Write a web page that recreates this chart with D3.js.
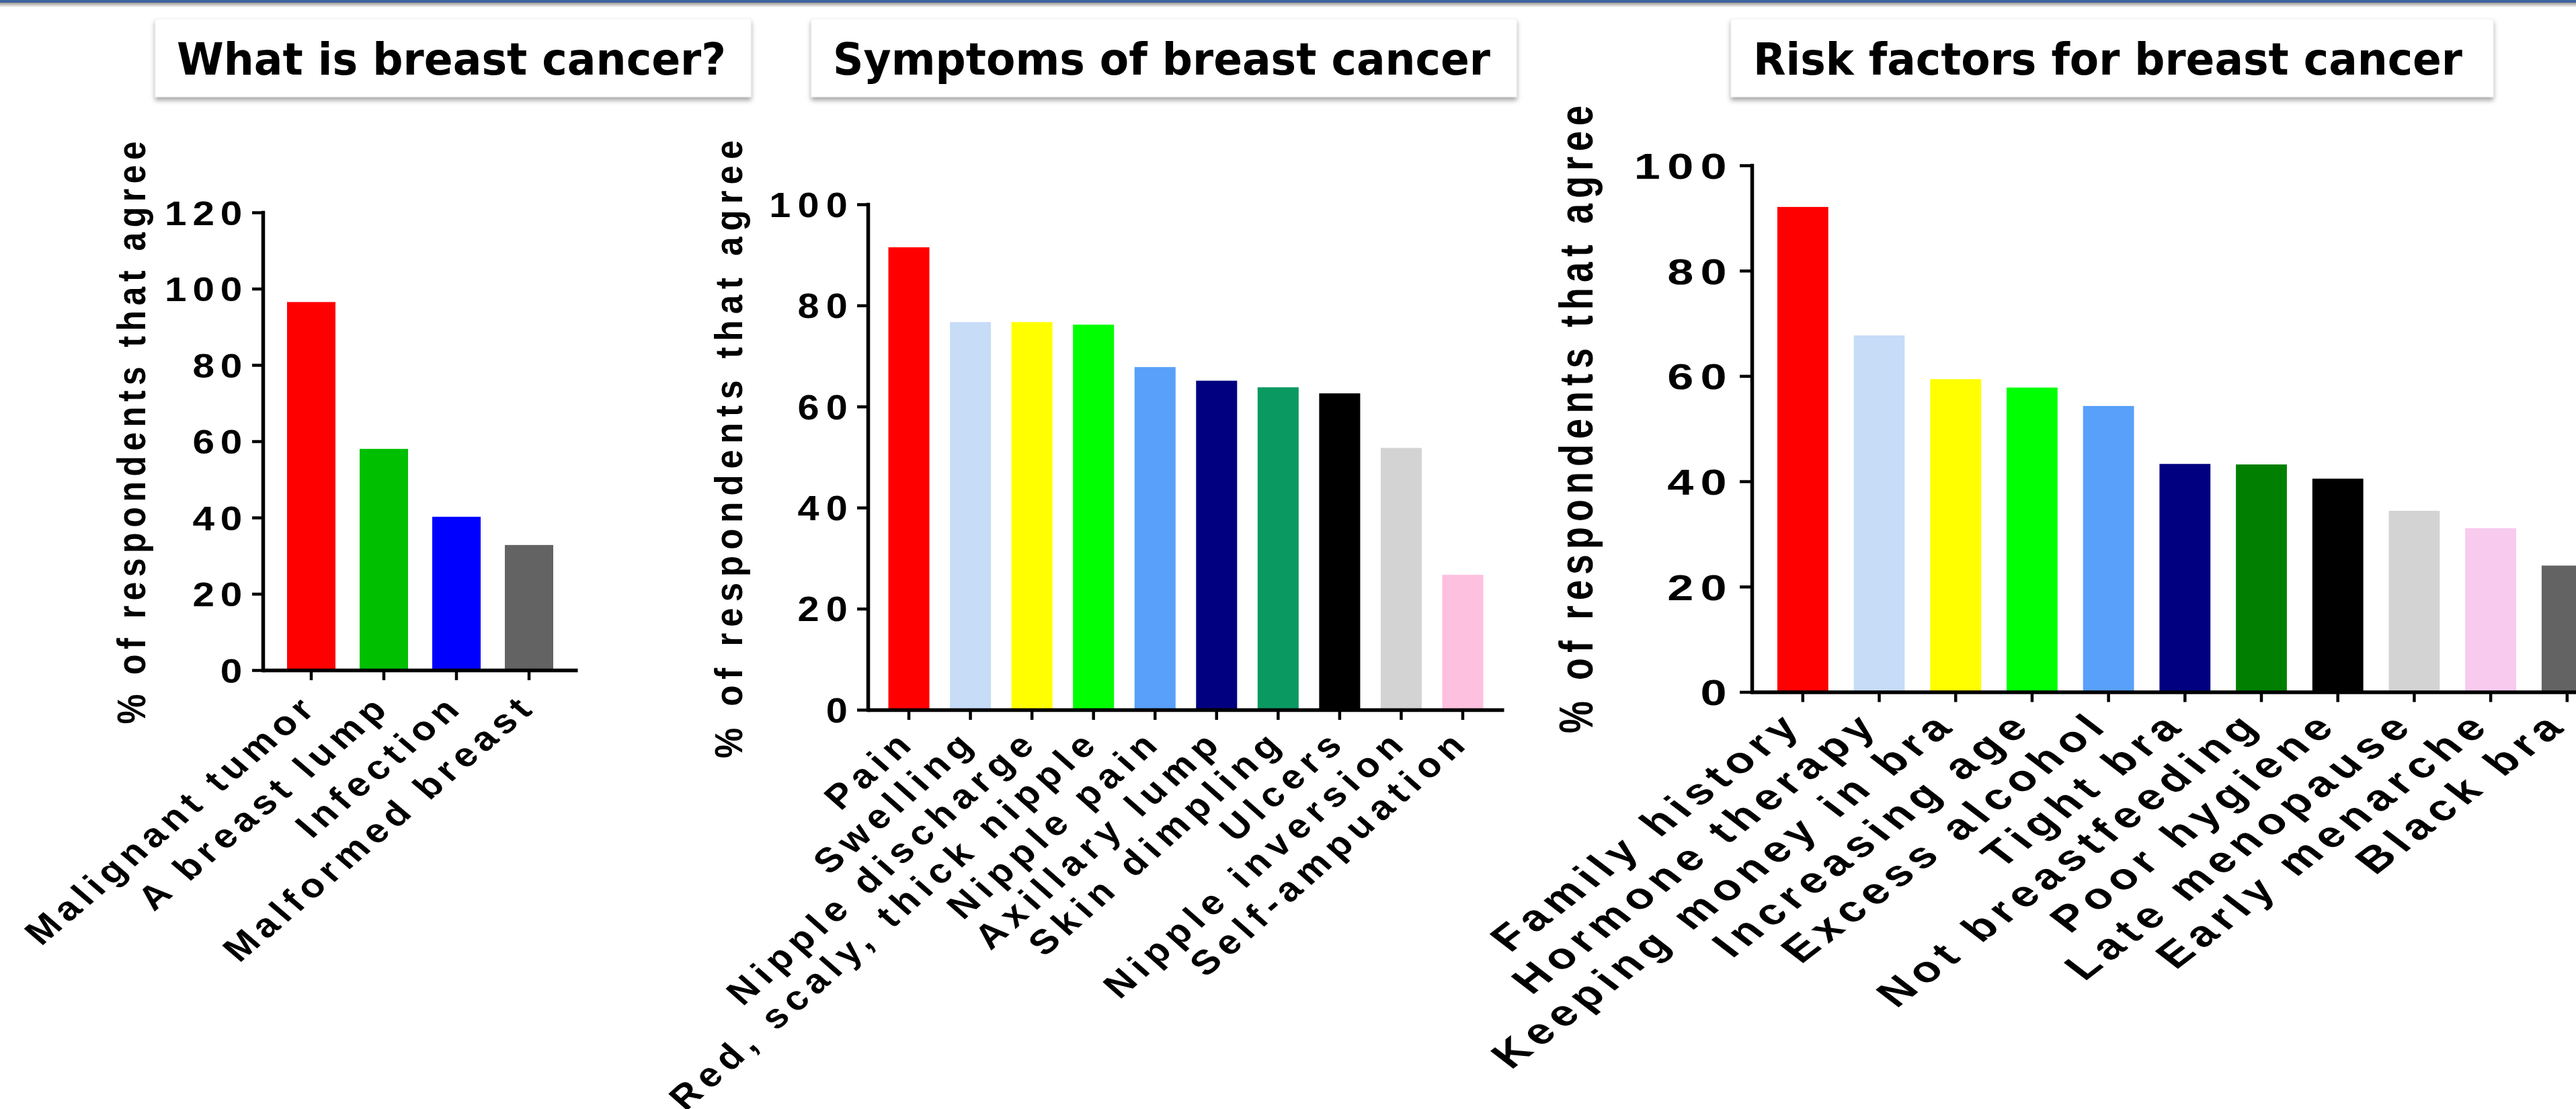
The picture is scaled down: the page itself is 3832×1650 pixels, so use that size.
<!DOCTYPE html>
<html><head><meta charset="utf-8">
<script src="https://cdn.jsdelivr.net/npm/d3@7"></script>
<style>html,body{margin:0;padding:0;background:#fff;overflow:hidden}</style>
</head><body>
<svg id="chart" width="3832" height="1650" xmlns="http://www.w3.org/2000/svg"></svg>
<script>
// ---------- DATA ----------
const yAxisTitle = "% of respondents that agree";

const whatTitle = "What is breast cancer?";
const whatCategories = ["Malignant tumor", "A breast lump", "Infection", "Malformed breast"];
const whatValues = [96.5, 58.0, 40.2, 32.8];
const whatColors = ["#ff0000", "#00bf00", "#0000ff", "#636363"];
const whatTicks = [0, 20, 40, 60, 80, 100, 120];

const symptomsTitle = "Symptoms of breast cancer";
const symptomsCategories = ["Pain", "Swelling", "Nipple discharge", "Red, scaly, thick nipple", "Nipple pain",
  "Axillary lump", "Skin dimpling", "Ulcers", "Nipple inversion", "Self-ampuation"];
const symptomsValues = [91.5, 76.7, 76.7, 76.2, 67.8, 65.1, 63.8, 62.6, 51.8, 26.7];
const symptomsColors = ["#ff0000", "#c6dcf7", "#ffff00", "#00ff00", "#58a0fa", "#000080", "#0b9962", "#000000", "#d3d3d3", "#fdc0df"];
const symptomsTicks = [0, 20, 40, 60, 80, 100];

const riskTitle = "Risk factors for breast cancer";
const riskCategories = ["Family history", "Hormone therapy", "Keeping money in bra", "Increasing age", "Excess alcohol",
  "Tight bra", "Not breastfeeding", "Poor hygiene", "Late menopause", "Early menarche", "Black bra"];
const riskValues = [92.1, 67.7, 59.4, 57.8, 54.3, 43.3, 43.2, 40.5, 34.4, 31.1, 24.0];
const riskColors = ["#ff0000", "#c6dcf7", "#ffff00", "#00ff00", "#58a0fa", "#000080", "#007f00", "#000000", "#d3d3d3", "#f8caee", "#636363"];
const riskTicks = [0, 20, 40, 60, 80, 100];

// ---------- LAYOUT ----------
const panels = [
  { title: whatTitle, categories: whatCategories, values: whatValues, colors: whatColors, ticks: whatTicks,
    x0: 391, x1: 859, y0: 997, yTop: 316, yMax: 120,
    box: [231, 1117], text: [263, 1080],
    fs: 50, ls: 7.5, sx: 1.17, tickLen: 16, tickOff: 22,
    titleX: 216, titleY: 640, lx: 13, ly: 57 },
  { title: symptomsTitle, categories: symptomsCategories, values: symptomsValues, colors: symptomsColors, ticks: symptomsTicks,
    x0: 1291, x1: 2237, y0: 1056, yTop: 304, yMax: 100,
    box: [1207, 2256], text: [1239, 2217],
    fs: 51, ls: 9, sx: 1.13, tickLen: 16, tickOff: 20,
    titleX: 1104, titleY: 664, lx: 13, ly: 50 },
  { title: riskTitle, categories: riskCategories, values: riskValues, colors: riskColors, ticks: riskTicks,
    x0: 2606, x1: 3894.6, y0: 1029.5, yTop: 246, yMax: 100,
    box: [2575, 3709], text: [2608, 3663],
    fs: 54, ls: 8, sx: 1.3, tickLen: 18, tickOff: 27,
    titleX: 2369, titleY: 620, lx: 4, ly: 51 }
];

const svg = d3.select("#chart");
const defs = svg.append("defs");
const sh = defs.append("filter").attr("id", "shadow").attr("x", "-5%").attr("y", "-20%").attr("width", "110%").attr("height", "150%");
sh.append("feDropShadow").attr("dx", 0).attr("dy", 5).attr("stdDeviation", 3.5)
  .attr("flood-color", "#000").attr("flood-opacity", 0.35);
const topGrad = defs.append("linearGradient").attr("id", "topgrad").attr("x1", 0).attr("y1", 0).attr("x2", 0).attr("y2", 1);
topGrad.append("stop").attr("offset", "0%").attr("stop-color", "#9c9a92");
topGrad.append("stop").attr("offset", "100%").attr("stop-color", "#ffffff");

svg.append("rect").attr("width", 3832).attr("height", 1650).attr("fill", "#ffffff");
svg.append("rect").attr("x", 0).attr("y", 0).attr("width", 3832).attr("height", 4).attr("fill", "#3f64a0");
svg.append("rect").attr("x", 0).attr("y", 4).attr("width", 3832).attr("height", 7).attr("fill", "url(#topgrad)");

const axisFont = "'Liberation Sans', Arial, Helvetica, sans-serif";

function drawPanel(p) {
  const g = svg.append("g");
  const x = d3.scaleBand().domain(p.categories).range([p.x0, p.x1]).paddingInner(1 / 3).paddingOuter(1 / 3);
  const y = d3.scaleLinear().domain([0, p.yMax]).range([p.y0, p.yTop]);

  // title box
  g.append("rect").attr("x", p.box[0]).attr("y", 28).attr("width", p.box[1] - p.box[0]).attr("height", 116)
    .attr("fill", "#fff").attr("stroke", "#efefef").attr("stroke-width", 1).attr("filter", "url(#shadow)");
  g.append("text").attr("x", p.text[0]).attr("y", 111)
    .attr("textLength", p.text[1] - p.text[0]).attr("lengthAdjust", "spacingAndGlyphs")
    .style("font-family", "'DejaVu Sans', Verdana, sans-serif").style("font-weight", "bold").style("font-size", "66px")
    .attr("fill", "#000").text(p.title);

  // bars
  const rows = p.categories.map((c, i) => ({ c, v: p.values[i], col: p.colors[i] }));
  g.selectAll("rect.bar").data(rows).join("rect").attr("class", "bar")
    .attr("x", d => x(d.c)).attr("width", x.bandwidth())
    .attr("y", d => y(d.v)).attr("height", d => y(0) - y(d.v)).attr("fill", d => d.col);

  // y axis
  const ya = g.append("g").attr("transform", `translate(${p.x0},0)`)
    .call(d3.axisLeft(y).tickValues(p.ticks).tickSize(p.tickLen).tickSizeOuter(0).tickFormat(""));
  ya.select(".domain").attr("stroke", "#000").attr("stroke-width", 5.5).attr("stroke-linecap", "square");
  ya.selectAll(".tick line").attr("stroke", "#000").attr("stroke-width", 4.5);
  ya.selectAll(".tick text").remove();
  ya.selectAll(".tick").append("text")
    .attr("transform", `translate(${-p.tickOff},0) scale(${p.sx},1)`)
    .attr("dy", "0.36em").attr("text-anchor", "end").attr("fill", "#000")
    .style("font-family", axisFont).style("font-weight", "bold").style("font-size", p.fs + "px")
    .style("letter-spacing", p.ls + "px")
    .text(d => String(d));

  // x axis
  const xa = g.append("g").attr("transform", `translate(0,${p.y0})`)
    .call(d3.axisBottom(x).tickSize(15).tickSizeOuter(0).tickFormat(""));
  xa.select(".domain").attr("stroke", "#000").attr("stroke-width", 5.5);
  xa.selectAll(".tick line").attr("stroke", "#000").attr("stroke-width", 4.5);
  xa.selectAll(".tick text").remove();
  xa.selectAll(".tick").append("text")
    .attr("transform", `translate(${p.lx},${p.ly}) scale(${p.sx},1) rotate(-45)`)
    .attr("text-anchor", "end").attr("fill", "#000")
    .style("font-family", axisFont).style("font-weight", "bold").style("font-size", p.fs + "px")
    .style("letter-spacing", p.ls + "px")
    .text(d => d);

  // y axis title
  g.append("text")
    .attr("transform", `translate(${p.titleX},${p.titleY}) scale(${p.sx},1) rotate(-90)`)
    .attr("text-anchor", "middle").attr("fill", "#000")
    .style("font-family", axisFont).style("font-weight", "bold").style("font-size", p.fs + "px")
    .style("letter-spacing", p.ls + "px")
    .text(yAxisTitle);
}

panels.forEach(drawPanel);
</script>
</body></html>
